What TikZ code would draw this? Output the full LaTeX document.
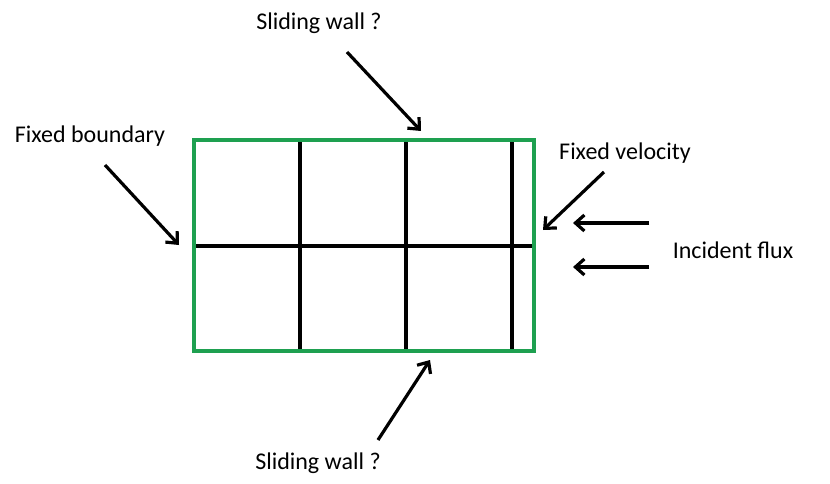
\documentclass[tikz,border=0pt]{standalone}
\usepackage{fontspec}
\setmainfont{Carlito}
\usetikzlibrary{arrows.meta}
\definecolor{wallgreen}{RGB}{30,160,80}
\tikzset{
  lbl/.style={font=\fontsize{24}{28}\selectfont},
  pointer/.style={line width=3.2pt,-{Straight Barb[length=9pt,width=16pt,line width=3.2pt]}}
}
\begin{document}
\begin{tikzpicture}[x=1pt,y=-1pt]
   \useasboundingbox (0,0) rectangle (830,484);
   % cell grid
   \draw[line width=3.2pt] (194,246) -- (533,246);
   \foreach \gx in {300,406,512}
     \draw[line width=3.2pt] (\gx,140) -- (\gx,351);
   \draw[wallgreen,line width=3.2pt] (194,140) rectangle (534,351);
   % labels
   \node[lbl] (topwall) at (319,23) {Sliding wall ?};
   \node[lbl] (fixbnd)  at (90,136) {Fixed boundary};
   \node[lbl] (fixvel)  at (625,153) {Fixed velocity};
   \node[lbl] (flux)    at (733,250) {Incident flux};
   \node[lbl] (botwall) at (318,463) {Sliding wall ?};
   % arrow ends
   \coordinate (T0) at (347,52);  \coordinate (T1) at (421,131);
   \coordinate (L0) at (105,165); \coordinate (L1) at (179,245);
   \coordinate (R0) at (604,172); \coordinate (R1) at (543,230);
   \coordinate (F0) at (649,223); \coordinate (F1) at (573,223);
   \coordinate (G0) at (649,267); \coordinate (G1) at (573,267);
   \coordinate (B0) at (378,440); \coordinate (B1) at (430,360);
   \draw[pointer] (T0) -- (T1);
   \draw[pointer] (L0) -- (L1);
   \draw[pointer] (R0) -- (R1);
   \draw[pointer] (F0) -- (F1);
   \draw[pointer] (G0) -- (G1);
   \draw[pointer] (B0) -- (B1);
\end{tikzpicture}
\end{document}
